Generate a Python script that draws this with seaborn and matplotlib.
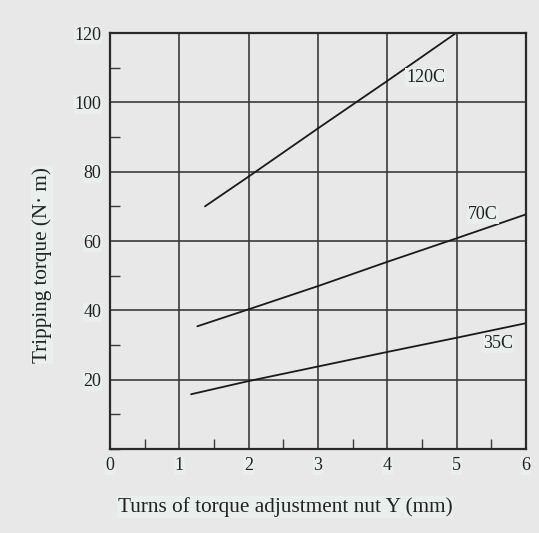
import numpy as np
import pandas as pd
import matplotlib
matplotlib.use("Agg")
import matplotlib.pyplot as plt
import seaborn as sns
from matplotlib.ticker import MultipleLocator

# curve points (turns, torque N*m)
x_120c = [1.37, 2.0, 3.0, 4.0, 4.99]
y_120c = [70.0, 78.6, 92.5, 106.2, 120.0]
x_70c = [1.26, 2.0, 3.0, 4.0, 5.0, 6.0]
y_70c = [35.4, 40.3, 47.0, 54.0, 60.8, 67.7]
x_35c = [1.17, 2.0, 3.0, 4.0, 5.0, 6.0]
y_35c = [15.8, 19.6, 23.8, 28.0, 32.1, 36.3]

curve_names = ["120C", "70C", "35C"]
label_pos = [(4.55, 107.2), (5.38, 67.7), (5.6, 30.3)]

x_ticks = [0, 1, 2, 3, 4, 5, 6]
y_ticks = [20, 40, 60, 80, 100, 120]

df = pd.concat([
    pd.DataFrame({"turns": x_120c, "torque": y_120c, "curve": "120C"}),
    pd.DataFrame({"turns": x_70c, "torque": y_70c, "curve": "70C"}),
    pd.DataFrame({"turns": x_35c, "torque": y_35c, "curve": "35C"}),
])

bg = "#e8e8e8"
box = dict(facecolor="#e9efed", edgecolor="none", pad=0.5)

sns.set_style("white")
plt.rcParams["font.family"] = ["Liberation Serif", "DejaVu Serif"]

fig = plt.figure(figsize=(5.39, 5.33), dpi=100, facecolor=bg)
ax = fig.add_axes([0.204, 0.1576, 0.772, 0.7804])
ax.set_facecolor(bg)

sns.lineplot(data=df, x="turns", y="torque", units="curve", estimator=None,
             color="#1a1a1a", linewidth=1.3, ax=ax, legend=False)

for name, (lx, ly) in zip(curve_names, label_pos):
    ax.text(lx, ly, name, fontsize=13, ha="center", va="center",
            color="#222222", bbox=box)

ax.set_xlim(0, 6)
ax.set_ylim(0, 120)
ax.set_xticks(x_ticks)
ax.set_yticks(y_ticks)
ax.xaxis.set_minor_locator(MultipleLocator(0.5))
ax.yaxis.set_minor_locator(MultipleLocator(10))
ax.grid(True, which="major", color="#3a3a3a", linewidth=1.2)
ax.tick_params(which="major", length=0, labelsize=13, colors="#222222", pad=6)
ax.tick_params(which="minor", direction="in", length=7, width=1.0,
               color="#3a3a3a", bottom=True, left=True)
for lab in ax.get_xticklabels() + ax.get_yticklabels():
    lab.set_bbox(box)

for side in ["left", "bottom", "top", "right"]:
    ax.spines[side].set_visible(True)
    ax.spines[side].set_color("#2a2a2a")
    ax.spines[side].set_linewidth(1.6)

ax.set_xlabel("")
ax.set_ylabel("")
fig.text(285 / 539, 1 - 507 / 533, "Turns of torque adjustment nut Y (mm)",
         fontsize=15.3, ha="center", va="center", color="#222222", bbox=box)
fig.text(42 / 539, 1 - 265 / 533, "Tripping torque (N\u00b7 m)", rotation=90,
         fontsize=15.2, ha="center", va="center", color="#222222", bbox=box)

fig.savefig("out.png", dpi=100, facecolor=bg)
